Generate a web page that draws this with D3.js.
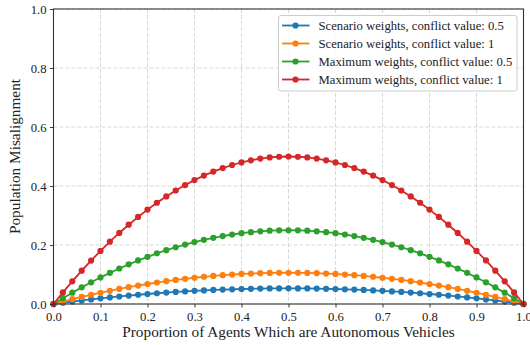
<!DOCTYPE html>
<html>
<head>
<meta charset="utf-8">
<script src="https://cdn.jsdelivr.net/npm/d3@7"></script>
<style>
  html, body { margin: 0; padding: 0; background: #fff; }
  svg { display: block; }
  text { font-family: "Liberation Serif", "Times New Roman", Times, "DejaVu Serif", serif; fill: #222; }
</style>
</head>
<body>
<div id="chart"></div>
<script>
// Proportion of autonomous vehicles in the population (0 to 1, step 0.02)
const proportion = [
  0.00, 0.02, 0.04, 0.06, 0.08, 0.10, 0.12, 0.14, 0.16, 0.18,
  0.20, 0.22, 0.24, 0.26, 0.28, 0.30, 0.32, 0.34, 0.36, 0.38,
  0.40, 0.42, 0.44, 0.46, 0.48, 0.50, 0.52, 0.54, 0.56, 0.58,
  0.60, 0.62, 0.64, 0.66, 0.68, 0.70, 0.72, 0.74, 0.76, 0.78,
  0.80, 0.82, 0.84, 0.86, 0.88, 0.90, 0.92, 0.94, 0.96, 0.98, 1.00
];

// Population misalignment, scenario weights, conflict value 0.5
const scenarioHalf = [
  0.0000, 0.0042, 0.0081, 0.0120, 0.0156, 0.0191, 0.0224, 0.0255, 0.0285, 0.0313,
  0.0339, 0.0364, 0.0387, 0.0408, 0.0427, 0.0445, 0.0461, 0.0476, 0.0488, 0.0499,
  0.0509, 0.0516, 0.0522, 0.0527, 0.0529, 0.0530, 0.0529, 0.0527, 0.0522, 0.0516,
  0.0509, 0.0499, 0.0488, 0.0476, 0.0461, 0.0445, 0.0427, 0.0408, 0.0387, 0.0364,
  0.0339, 0.0313, 0.0285, 0.0255, 0.0224, 0.0191, 0.0156, 0.0120, 0.0081, 0.0042, 0.0000
];

// Population misalignment, scenario weights, conflict value 1
const scenarioOne = [
  0.0000, 0.0083, 0.0163, 0.0239, 0.0312, 0.0382, 0.0448, 0.0510, 0.0570, 0.0626,
  0.0678, 0.0728, 0.0773, 0.0816, 0.0855, 0.0890, 0.0923, 0.0951, 0.0977, 0.0999,
  0.1018, 0.1033, 0.1045, 0.1053, 0.1058, 0.1060, 0.1058, 0.1053, 0.1045, 0.1033,
  0.1018, 0.0999, 0.0977, 0.0951, 0.0923, 0.0890, 0.0855, 0.0816, 0.0773, 0.0728,
  0.0678, 0.0626, 0.0570, 0.0510, 0.0448, 0.0382, 0.0312, 0.0239, 0.0163, 0.0083, 0.0000
];

// Population misalignment, maximum weights, conflict value 0.5
const maximumHalf = [
  0.0000, 0.0196, 0.0384, 0.0564, 0.0736, 0.0900, 0.1056, 0.1204, 0.1344, 0.1476,
  0.1600, 0.1716, 0.1824, 0.1924, 0.2016, 0.2100, 0.2176, 0.2244, 0.2304, 0.2356,
  0.2400, 0.2436, 0.2464, 0.2484, 0.2496, 0.2500, 0.2496, 0.2484, 0.2464, 0.2436,
  0.2400, 0.2356, 0.2304, 0.2244, 0.2176, 0.2100, 0.2016, 0.1924, 0.1824, 0.1716,
  0.1600, 0.1476, 0.1344, 0.1204, 0.1056, 0.0900, 0.0736, 0.0564, 0.0384, 0.0196, 0.0000
];

// Population misalignment, maximum weights, conflict value 1
const maximumOne = [
  0.0000, 0.0392, 0.0768, 0.1128, 0.1472, 0.1800, 0.2112, 0.2408, 0.2688, 0.2952,
  0.3200, 0.3432, 0.3648, 0.3848, 0.4032, 0.4200, 0.4352, 0.4488, 0.4608, 0.4712,
  0.4800, 0.4872, 0.4928, 0.4968, 0.4992, 0.5000, 0.4992, 0.4968, 0.4928, 0.4872,
  0.4800, 0.4712, 0.4608, 0.4488, 0.4352, 0.4200, 0.4032, 0.3848, 0.3648, 0.3432,
  0.3200, 0.2952, 0.2688, 0.2408, 0.2112, 0.1800, 0.1476, 0.1128, 0.0768, 0.0392, 0.0000
];

const seriesLabels = [
  "Scenario weights, conflict value: 0.5",
  "Scenario weights, conflict value: 1",
  "Maximum weights, conflict value: 0.5",
  "Maximum weights, conflict value: 1"
];
const seriesColors = ["#1f77b4", "#ff7f0e", "#2ca02c", "#d62728"];
const seriesValues = [scenarioHalf, scenarioOne, maximumHalf, maximumOne];

const xTicks = [0, 0.1, 0.2, 0.3, 0.4, 0.5, 0.6, 0.7, 0.8, 0.9, 1.0];
const yTicks = [0, 0.2, 0.4, 0.6, 0.8, 1.0];

const xLabel = "Proportion of Agents Which are Autonomous Vehicles";
const yLabel = "Population Misalignment";

// ---- layout ----
const width = 530, height = 345;
const margin = { left: 53.5, right: 6.5, top: 9, bottom: 41 };
const innerW = width - margin.left - margin.right;
const innerH = height - margin.top - margin.bottom;
const serif = '"Liberation Serif", "Times New Roman", Times, "DejaVu Serif", serif';

const svg = d3.select("#chart").append("svg")
  .attr("width", width).attr("height", height);

const x = d3.scaleLinear().domain([0, 1]).range([0, innerW]);
const y = d3.scaleLinear().domain([0, 1]).range([innerH, 0]);

const g = svg.append("g").attr("transform", `translate(${margin.left},${margin.top})`);

// dashed grid
const grid = g.append("g").attr("class", "grid");
grid.selectAll("line.gx").data(xTicks).join("line")
  .attr("x1", d => x(d)).attr("x2", d => x(d))
  .attr("y1", 0).attr("y2", innerH)
  .attr("stroke", "#d4d4d4").attr("stroke-width", 0.9)
  .attr("stroke-dasharray", "4,2");
grid.selectAll("line.gy").data(yTicks).join("line")
  .attr("y1", d => y(d)).attr("y2", d => y(d))
  .attr("x1", 0).attr("x2", innerW)
  .attr("stroke", "#d4d4d4").attr("stroke-width", 0.9)
  .attr("stroke-dasharray", "4,2");

// series lines with circle markers
const line = d3.line().x((d, i) => x(proportion[i])).y(d => y(d));
seriesValues.forEach((vals, k) => {
  const s = g.append("g");
  s.append("path").datum(vals)
    .attr("d", line)
    .attr("fill", "none")
    .attr("stroke", seriesColors[k])
    .attr("stroke-width", 1.8);
  s.selectAll("circle").data(vals).join("circle")
    .attr("cx", (d, i) => x(proportion[i]))
    .attr("cy", d => y(d))
    .attr("r", 3.1)
    .attr("fill", seriesColors[k]);
});

// axes
const fmt = d3.format(".1f");
const xAxis = g.append("g").attr("transform", `translate(0,${innerH})`)
  .call(d3.axisBottom(x).tickValues(xTicks).tickFormat(fmt).tickSizeOuter(0).tickSize(3.5).tickPadding(4));
const yAxis = g.append("g")
  .call(d3.axisLeft(y).tickValues(yTicks).tickFormat(fmt).tickSizeOuter(0).tickSize(3.5).tickPadding(3.5));
[xAxis, yAxis].forEach(a => {
  a.attr("font-family", serif);
  a.select(".domain").remove();
  a.selectAll(".tick line").attr("stroke", "#222").attr("stroke-width", 0.9);
  a.selectAll(".tick text")
    .attr("font-family", serif)
    .attr("font-size", 12.7).attr("fill", "#222");
});

// frame
g.append("rect")
  .attr("x", 0).attr("y", 0).attr("width", innerW).attr("height", innerH)
  .attr("fill", "none").attr("stroke", "#333").attr("stroke-width", 1.1);

// axis titles
svg.append("text")
  .attr("x", margin.left + innerW / 2).attr("y", height - 8)
  .attr("text-anchor", "middle").attr("font-size", 15.3)
  .attr("font-family", serif)
  .text(xLabel);
svg.append("text")
  .attr("transform", `translate(20,${margin.top + innerH / 2}) rotate(-90)`)
  .attr("text-anchor", "middle").attr("font-size", 15.3)
  .attr("font-family", serif)
  .text(yLabel);

// legend
const lg = svg.append("g").attr("transform", "translate(278.5,15.5)");
lg.append("rect")
  .attr("width", 238.5).attr("height", 75.5).attr("rx", 2.5)
  .attr("fill", "rgba(255,255,255,0.85)").attr("stroke", "#cccccc").attr("stroke-width", 1);
seriesLabels.forEach((lab, k) => {
  const row = lg.append("g").attr("transform", `translate(0,${10 + k * 18})`);
  row.append("line").attr("x1", 3.5).attr("x2", 31).attr("y1", 0).attr("y2", 0)
    .attr("stroke", seriesColors[k]).attr("stroke-width", 1.8);
  row.append("circle").attr("cx", 17).attr("cy", 0).attr("r", 3.1).attr("fill", seriesColors[k]);
  row.append("text").attr("x", 40).attr("y", 0).attr("dy", "0.35em")
    .attr("font-family", serif)
    .attr("font-size", 12.7).text(lab);
});
</script>
</body>
</html>
